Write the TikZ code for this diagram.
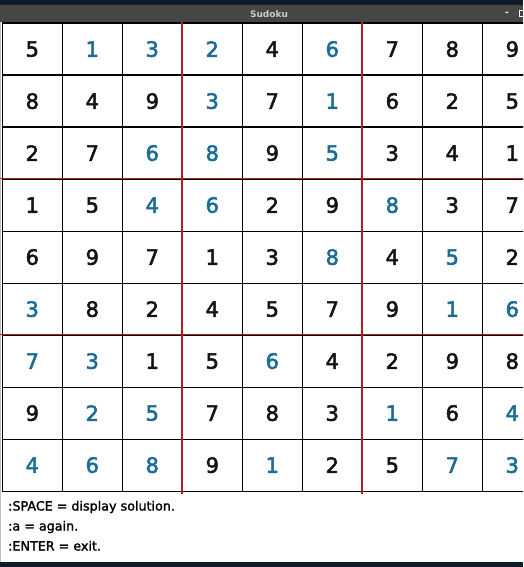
\documentclass[tikz,border=0pt]{standalone}
\usepackage{fontspec}
\setmainfont{DejaVu Sans}
\newfontfamily\digitfont[FakeBold=2.5]{DejaVu Sans}
\newfontfamily\helpfont[FakeBold=1.5]{DejaVu Sans}
\definecolor{digblue}{RGB}{28,108,150}
\definecolor{gridred}{RGB}{180,30,34}
\definecolor{topnavy}{RGB}{14,27,43}
\definecolor{titlegray}{RGB}{70,70,70}
\definecolor{titletext}{RGB}{205,205,205}
\def\gmark{g}
\begin{document}
\begin{tikzpicture}[x=1pt,y=-1pt,
  cell/.style={draw=black,line width=1.2pt,minimum width=60pt,minimum height=52pt,
    inner sep=0pt,anchor=north west,font=\digitfont\fontsize{21}{21}\selectfont},
  given/.style={text=black!92},
  solved/.style={text=digblue},
  helptext/.style={anchor=base west,inner sep=0pt,font=\helpfont\fontsize{12.7}{14}\selectfont,text=black},
  redline/.style={draw=gridred,line width=1.8pt}]
\useasboundingbox (0,0) rectangle (523,567);
\clip (0,0) rectangle (523,567);
% window frame
\fill[topnavy] (0,0) rectangle (523,567);
\fill[titlegray] (0,5) rectangle (523,22.5);
\fill[white] (0,22.5) rectangle (523,562);
\fill[black!25] (0,22.5) rectangle (1.2,562);
\node[font=\bfseries\fontsize{9}{10}\selectfont,text=titletext] (title) at (269,14.5) {Sudoku};
\node[font=\bfseries\fontsize{9}{9}\selectfont,text=white] (minbtn) at (507,14) {-};
\draw[white,line width=1pt] (519.5,11) rectangle (525,17);
% cells: row list, each entry digit/colour (g = black, s = blue)
\foreach \row [count=\r] in {
  {5/g,1/s,3/s,2/s,4/g,6/s,7/g,8/g,9/g},
  {8/g,4/g,9/g,3/s,7/g,1/s,6/g,2/g,5/g},
  {2/g,7/g,6/s,8/s,9/g,5/s,3/g,4/g,1/g},
  {1/g,5/g,4/s,6/s,2/g,9/g,8/s,3/g,7/g},
  {6/g,9/g,7/g,1/g,3/g,8/s,4/g,5/s,2/g},
  {3/s,8/g,2/g,4/g,5/g,7/g,9/g,1/s,6/s},
  {7/s,3/s,1/g,5/g,6/s,4/g,2/g,9/g,8/g},
  {9/g,2/s,5/s,7/g,8/g,3/g,1/s,6/g,4/s},
  {4/s,6/s,8/s,9/g,1/s,2/g,5/g,7/s,3/s}} {
  \foreach \d/\k [count=\c] in \row {
    \ifx\k\gmark\def\cst{given}\else\def\cst{solved}\fi
    \node[cell,\cst] (c-\r-\c) at ({1.7+60*(\c-1)},{22.5+52*(\r-1)}) {\raisebox{-1.5pt}{\d}};
  }
}
% box separators
\draw[redline] (181.7,22.5) -- (181.7,494);
\draw[redline] (361.7,22.5) -- (361.7,494);
\draw[redline] (0,178.5) -- (523,178.5);
\draw[redline] (0,334.5) -- (523,334.5);
% help text
\node[helptext] (h1) at (8,510.5) {:SPACE = display solution.};
\node[helptext] (h2) at (8,530.5) {:a = again.};
\node[helptext] (h3) at (8,550.5) {:ENTER = exit.};
\end{tikzpicture}
\end{document}
